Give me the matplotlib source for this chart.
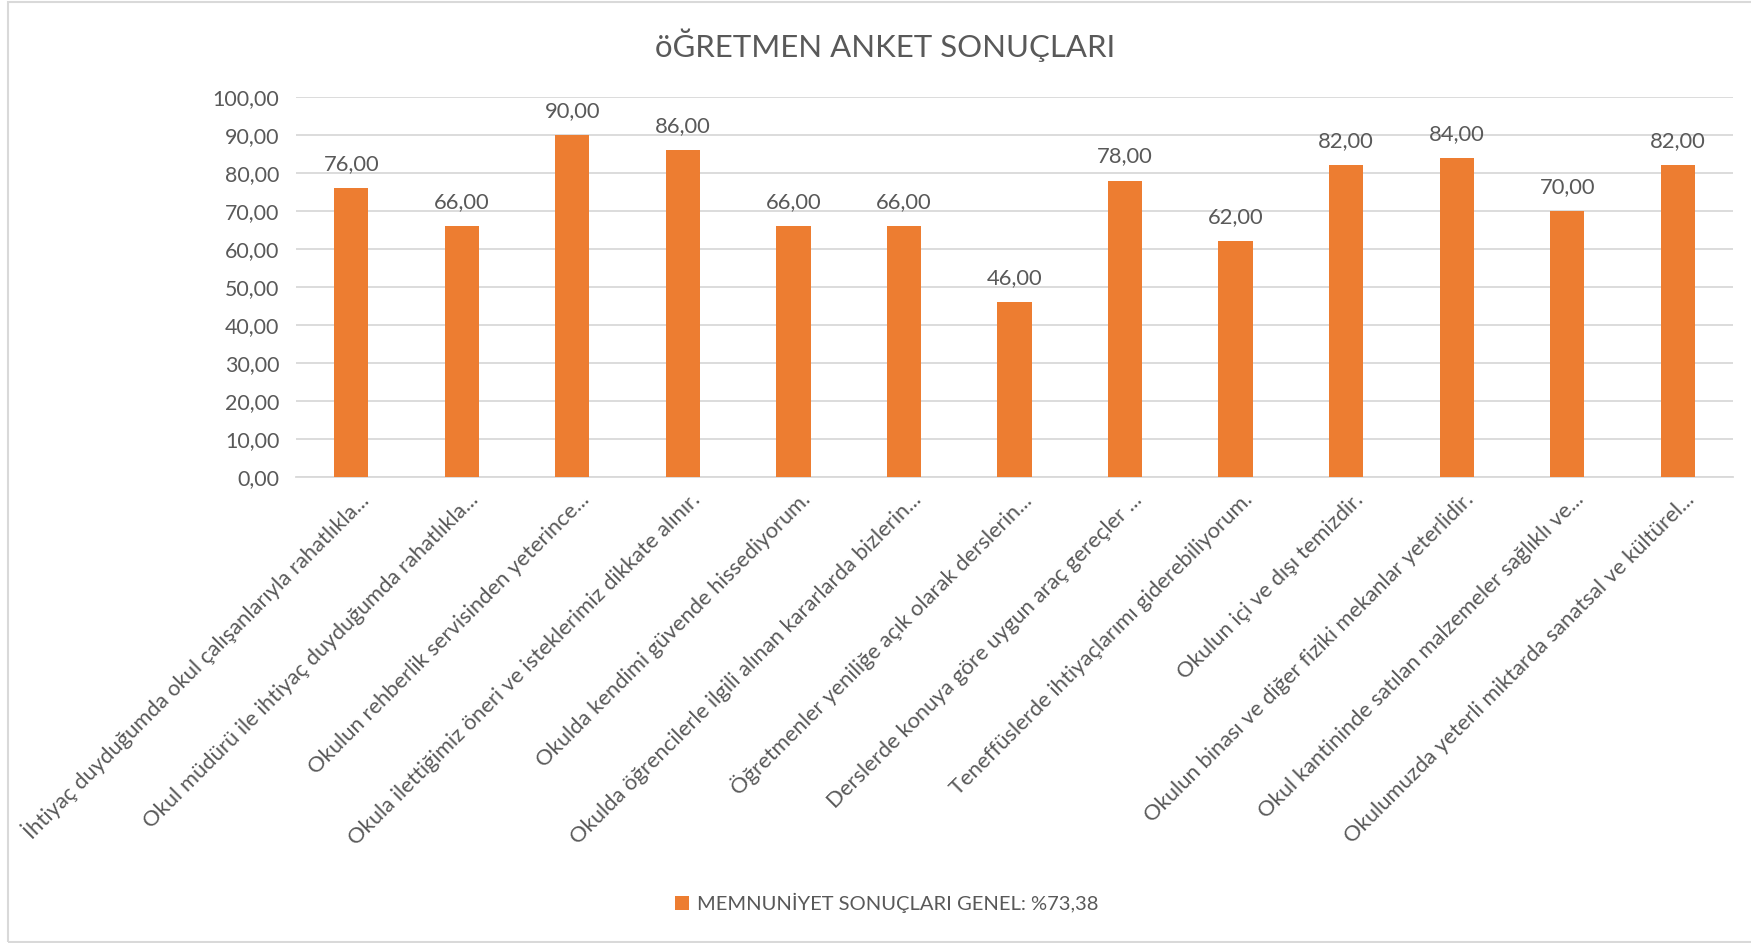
import matplotlib
matplotlib.use("Agg")
import matplotlib.pyplot as plt
import matplotlib.transforms as mtransforms
from matplotlib.patches import Patch, Rectangle

plt.rcParams['font.family'] = ['Lato', 'DejaVu Sans']

# Survey items (as shown, truncated like the original)
categories = [
    "İhtiyaç duyduğumda okul çalışanlarıyla rahatlıkla...",
    "Okul müdürü ile ihtiyaç duyduğumda rahatlıkla...",
    "Okulun rehberlik servisinden yeterince...",
    "Okula ilettiğimiz öneri ve isteklerimiz dikkate alınır.",
    "Okulda kendimi güvende hissediyorum.",
    "Okulda öğrencilerle ilgili alınan kararlarda bizlerin...",
    "Öğretmenler yeniliğe açık olarak derslerin...",
    "Derslerde konuya göre uygun araç gereçler ...",
    "Teneffüslerde ihtiyaçlarımı giderebiliyorum.",
    "Okulun içi ve dışı temizdir.",
    "Okulun binası ve diğer fiziki mekanlar yeterlidir.",
    "Okul kantininde satılan malzemeler sağlıklı ve...",
    "Okulumuzda yeterli miktarda sanatsal ve kültürel...",
]
values = [76, 66, 90, 86, 66, 66, 46, 78, 62, 82, 84, 70, 82]
y_ticks = [0, 10, 20, 30, 40, 50, 60, 70, 80, 90, 100]

title = "öĞRETMEN ANKET SONUÇLARI"
legend_label = "MEMNUNİYET SONUÇLARI GENEL: %73,38"

BAR = "#ED7D31"
TEXT = "#595959"
GRID = "#D9D9D9"


def fmt(v):
    return f"{v:.2f}".replace(".", ",")


fig = plt.figure(figsize=(17.51, 9.43), dpi=100)
ax = fig.add_axes([296 / 1751, 1 - 477 / 943, (1733 - 296) / 1751, (477 - 97) / 943])

x = list(range(len(categories)))
ax.bar(x, values, width=0.31, color=BAR, zorder=3)

for xi, v in zip(x, values):
    ax.annotate(fmt(v), (xi, v), xytext=(0, 13), textcoords="offset points",
                ha="center", va="baseline", fontsize=15.8, color=TEXT)

ax.set_xlim(-0.5, len(categories) - 0.5)
ax.set_ylim(0, 100)
ax.set_yticks(y_ticks)
ax.set_yticklabels([fmt(t) for t in y_ticks])
ax.yaxis.grid(True, color=GRID, linewidth=1.3, zorder=0)
ax.tick_params(axis="y", length=0, pad=12, labelsize=15.4, labelcolor=TEXT)

ax.set_xticks(x)
ax.set_xticklabels(categories, rotation=45, ha="right", va="center",
                   rotation_mode="anchor", fontsize=15.8, color=TEXT)
ax.tick_params(axis="x", length=0, pad=14)
shift = mtransforms.ScaledTranslation(10 / 72, 0, fig.dpi_scale_trans)
for lbl in ax.get_xticklabels():
    lbl.set_transform(lbl.get_transform() + shift)

for s in ["top", "right", "left"]:
    ax.spines[s].set_visible(False)
ax.spines["bottom"].set_color(GRID)
ax.spines["bottom"].set_linewidth(1.3)

fig.text(0.5 + 10 / 1751, 1 - 45 / 943, title, ha="center", va="center", fontsize=22.4, color=TEXT)

fig.legend(handles=[Patch(facecolor=BAR, label=legend_label)],
           loc="center", bbox_to_anchor=(887 / 1751, 1 - 903 / 943),
           frameon=False, fontsize=14.5, labelcolor=TEXT,
           handlelength=0.7, handleheight=0.7, handletextpad=0.4)

# light chart border
fig.patches.append(Rectangle((8 / 1751, 1 / 943), 1.2, 1 - 3 / 943, transform=fig.transFigure,
                             fill=False, edgecolor=GRID, linewidth=1.5))

fig.savefig("out.png", dpi=100, facecolor="white")
